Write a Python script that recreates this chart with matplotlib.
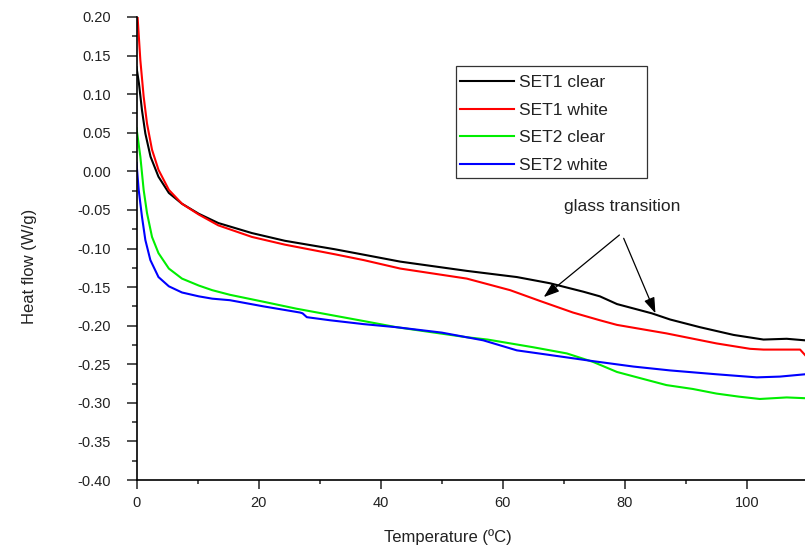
import matplotlib
matplotlib.use("Agg")
import matplotlib.pyplot as plt
from matplotlib.patches import Rectangle
from matplotlib.ticker import MultipleLocator, FormatStrFormatter

plt.rcParams['font.family'] = ['Liberation Sans', 'DejaVu Sans']
plt.rcParams['axes.unicode_minus'] = False

# ---- data ----
t_set1_clear = [0, 0.4, 0.9, 1.45, 2.3, 3.6, 5.3, 7.45, 10.2, 13.4, 18.9, 24.3, 32.5,
                37.2, 43.2, 54.1, 62.3, 67.7, 73.2, 75.9, 78.7, 84.4, 87.4, 92.3, 97.8,
                102.7, 106.5, 109.5]
hf_set1_clear = [0.135, 0.114, 0.079, 0.049, 0.019, -0.007, -0.028, -0.042, -0.055, -0.067,
                 -0.080, -0.090, -0.101, -0.108, -0.117, -0.129, -0.137, -0.145,
                 -0.156, -0.162, -0.172, -0.184, -0.192, -0.202, -0.212, -0.218, -0.217, -0.219]

t_set1_white = [0, 0.63, 1.17, 1.72, 2.54, 3.6, 5.3, 7.45, 10.2, 13.4, 18.9, 24.3, 32.5,
                37.2, 43.2, 54.1, 61.2, 66.1, 71.5, 75.9, 78.7, 86.8, 95.0, 100.5, 102.7,
                108.7, 109.5]
hf_set1_white = [0.222, 0.144, 0.097, 0.062, 0.028, 0.002, -0.024, -0.042, -0.056, -0.070,
                 -0.085, -0.095, -0.1075, -0.115, -0.126, -0.139, -0.154, -0.168,
                 -0.183, -0.193, -0.199, -0.210, -0.223, -0.230, -0.231, -0.231, -0.238]

t_set2_clear = [0, 0.63, 1.17, 1.72, 2.54, 3.6, 5.3, 7.45, 10.2, 12.4, 15.3, 20.8, 26.2, 31.7,
                37.2, 42.6, 54.1, 57.5, 65.0, 70.5, 74.8, 78.7, 82.5, 86.8, 91.1, 95.0, 98.7,
                102.1, 106.5, 109.5]
hf_set2_clear = [0.056, 0.019, -0.024, -0.054, -0.085, -0.106, -0.126, -0.139, -0.148, -0.154,
                 -0.160, -0.169, -0.178, -0.186, -0.194, -0.202, -0.215, -0.218, -0.228,
                 -0.236, -0.247, -0.260, -0.268, -0.277, -0.282, -0.288, -0.292, -0.295,
                 -0.293, -0.294]

t_set2_white = [0, 0.36, 0.9, 1.45, 2.27, 3.6, 5.3, 7.45, 10.2, 12.4, 15.3, 20.8, 26.8, 27.2,
                27.9, 31.7, 37.2, 42.6, 50.0, 56.8, 62.3, 67.7, 74.8, 81.4, 87.4, 95.0,
                101.6, 105.4, 109.5]
hf_set2_white = [0.011, -0.024, -0.059, -0.089, -0.115, -0.137, -0.149, -0.157, -0.162, -0.165,
                 -0.167, -0.175, -0.183, -0.184, -0.189, -0.193, -0.198, -0.202, -0.209,
                 -0.219, -0.232, -0.238, -0.246, -0.253, -0.258, -0.263, -0.267, -0.266, -0.263]

series_names = ["SET1 clear", "SET1 white", "SET2 clear", "SET2 white"]
series_colors = ["#000000", "#ff0000", "#00ee00", "#0000ff"]

x_label = "Temperature (ºC)"
y_label = "Heat flow (W/g)"
note_text = "glass transition"

# ---- figure ----
W, H = 805, 547
fig = plt.figure(figsize=(W / 100, H / 100), dpi=100)
ax = fig.add_axes([136.5 / W, 1 - 480 / H, 1 - 136.5 / W, (480 - 17) / H])

data = [(t_set1_clear, hf_set1_clear), (t_set1_white, hf_set1_white),
        (t_set2_clear, hf_set2_clear), (t_set2_white, hf_set2_white)]
for (t, hf), name, col in zip(data, series_names, series_colors):
    ax.plot(t, hf, color=col, lw=1.5, label=name)

ax.set_xlim(0, 109.5)
ax.set_ylim(-0.40, 0.20)

ax.spines['top'].set_visible(False)
ax.spines['right'].set_visible(False)
for s in ('left', 'bottom'):
    ax.spines[s].set_linewidth(1.2)

ax.xaxis.set_major_locator(MultipleLocator(20))
ax.xaxis.set_minor_locator(MultipleLocator(10))
ax.yaxis.set_major_locator(MultipleLocator(0.05))
ax.yaxis.set_minor_locator(MultipleLocator(0.025))
ax.yaxis.set_major_formatter(FormatStrFormatter('%.2f'))

ax.tick_params(axis='y', which='major', direction='out', length=7.2, width=1.1,
               labelsize=10.5, pad=11)
ax.tick_params(axis='y', which='minor', direction='out', length=3.6, width=1.1)
ax.tick_params(axis='x', which='major', direction='out', length=6.5, width=1.1,
               labelsize=10.5, pad=4.7)
ax.tick_params(axis='x', which='minor', direction='out', length=3.2, width=1.1)
ax.tick_params(colors='#222222', which='both')
for lab in ax.get_xticklabels() + ax.get_yticklabels():
    lab.set_color('#222222')

ax.set_xlabel(x_label, fontsize=12, color='#222222')
ax.set_ylabel(y_label, fontsize=12, color='#222222')
ax.xaxis.set_label_coords((447.5 - 136.5) / 668.5, (480 - 529) / 463)
ax.yaxis.set_label_coords((37.5 - 136.5) / 668.5, (480 - 266) / 463)

# legend (entries) + separate frame box
leg = ax.legend(loc='upper left', bbox_to_anchor=(459.5 / W, 1 - 75 / H),
                bbox_transform=fig.transFigure, borderaxespad=0, frameon=False,
                fontsize=12.5, handlelength=3.15, handletextpad=0.29, borderpad=0,
                labelspacing=0.71)
for txt in leg.get_texts():
    txt.set_color('#222222')
fig.add_artist(Rectangle((456 / W, 1 - 178 / H), (647 - 456) / W, (178 - 66) / H,
                         transform=fig.transFigure, fill=False, edgecolor='#333333',
                         linewidth=0.9))

# annotation
ax.text(79.5, -0.046, note_text, ha='center', va='center', fontsize=12.5, color='#222222')
arrow_kw = dict(arrowstyle='-|>,head_length=0.95,head_width=0.33', color='black',
                lw=0.9, shrinkA=0, shrinkB=0, mutation_scale=10)
ax.annotate('', xy=(66.7, -0.163), xytext=(79.1, -0.0825), arrowprops=arrow_kw)
ax.annotate('', xy=(85.0, -0.184), xytext=(79.8, -0.0868), arrowprops=arrow_kw)

fig.savefig('out.png', dpi=100)
